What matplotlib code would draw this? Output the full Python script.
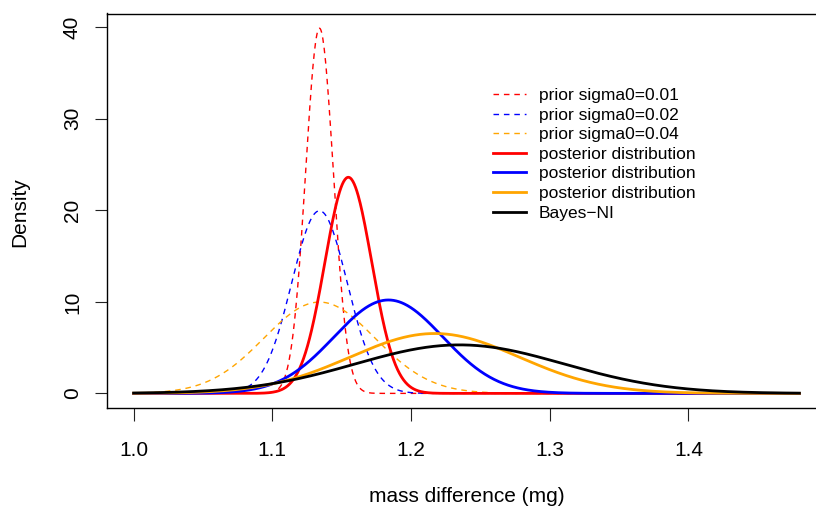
import numpy as np
import matplotlib
matplotlib.use('Agg')
import matplotlib.pyplot as plt

plt.rcParams['font.family'] = ['Liberation Sans', 'DejaVu Sans']

# normal curves (centre, sd)
labels = ['prior sigma0=0.01', 'prior sigma0=0.02', 'prior sigma0=0.04',
          'posterior distribution', 'posterior distribution', 'posterior distribution',
          'Bayes\u2212NI']
centres = [1.134, 1.134, 1.134, 1.1548, 1.1837, 1.2170, 1.2350]
sds = [0.01, 0.02, 0.04, 0.0169, 0.0391, 0.0610, 0.0753]
colors = ['red', 'blue', 'orange', 'red', 'blue', 'orange', 'black']
dashed = [True, True, True, False, False, False, False]

x_from, x_to = 1.0, 1.48
xticks = [1.0, 1.1, 1.2, 1.3, 1.4]
yticks = [0, 10, 20, 30, 40]

fig = plt.figure(figsize=(8.16, 5.07), dpi=100)
ax = fig.add_axes([107/816, 99/507, 719/816, 394.5/507])

x = np.linspace(x_from, x_to, 1000)
for lab, m, s, c, d in zip(labels, centres, sds, colors, dashed):
    y = np.exp(-0.5*((x - m)/s)**2) / (s*np.sqrt(2*np.pi))
    if d:
        ax.plot(x, y, color=c, lw=1, linestyle=(0, (4, 3.5)), label=lab)
    else:
        ax.plot(x, y, color=c, lw=2, label=lab)

span = x_to - x_from
ax.set_xlim(x_from - 0.04*span, x_to + 0.04*span)
ax.set_ylim(-0.04*39.9, 39.9*1.04)
ax.set_xticks(xticks)
ax.set_xticklabels(['1.0', '1.1', '1.2', '1.3', '1.4'])
ax.set_yticks(yticks)
ax.set_yticklabels([str(v) for v in yticks], rotation=90, va='center')
ax.tick_params(length=9, width=0.8, labelsize=15, colors='#222222', labelcolor='black')
ax.tick_params(axis='x', pad=15)
ax.tick_params(axis='y', pad=9)
for sp in ax.spines.values():
    sp.set_linewidth(1)

fig.text(467/816, 1 - 496/507, 'mass difference (mg)', ha='center', va='center', fontsize=15)
fig.text(20/816, 1 - 212/507, 'Density', ha='center', va='center', rotation=90, fontsize=15)

ax.legend(loc='upper left', bbox_to_anchor=(493/816, 1 - 88/507), bbox_transform=fig.transFigure,
          frameon=False, fontsize=12.5, handlelength=1.9, handletextpad=0.75,
          labelspacing=0.255, borderpad=0, borderaxespad=0)

fig.savefig('out.png', dpi=100)
